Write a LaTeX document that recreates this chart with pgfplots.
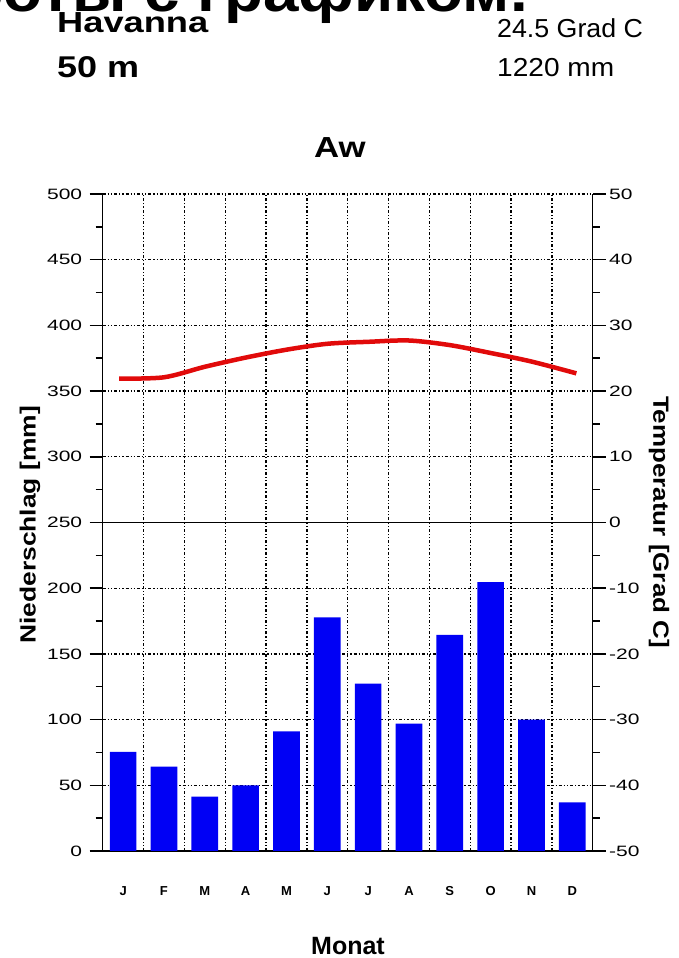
\documentclass[border=0pt]{standalone}
\usepackage{fontspec}
\setmainfont{Liberation Sans}
\usepackage{pgfplots}
\pgfplotsset{compat=1.18}
\definecolor{barblue}{RGB}{0,0,245}
\definecolor{tred}{RGB}{225,10,10}
\begin{document}
\begin{tikzpicture}
\useasboundingbox (0pt,0pt) rectangle (679pt,958pt);
\begin{scope}
\clip (0pt,0pt) rectangle (679pt,958pt);
% cut-off slide title
\node[anchor=base east, inner sep=0, font=\bfseries\fontsize{58}{58}\selectfont] at (528pt,946.5pt) {\scalebox{1.1}[1]{Порядок работы с графиком.}};
\end{scope}
% header
\node[anchor=base west, inner sep=0, font=\bfseries\fontsize{29}{29}\selectfont] at (57pt,925pt) {\scalebox{1.25}[1]{Havanna}};
\node[anchor=base west, inner sep=0, font=\bfseries\fontsize{30}{30}\selectfont] at (57pt,880pt) {\scalebox{1.2}[1]{50 m}};
\node[anchor=base west, inner sep=0, font=\fontsize{26}{26}\selectfont] at (497pt,920pt) {\scalebox{1.03}[1]{24.5 Grad C}};
\node[anchor=base west, inner sep=0, font=\fontsize{26}{26}\selectfont] at (497pt,881pt) {\scalebox{1.08}[1]{1220 mm}};
\node[anchor=base, inner sep=0, font=\bfseries\fontsize{29}{29}\selectfont] at (340pt,800pt) {\scalebox{1.2}[1]{Aw}};
\node[anchor=base, inner sep=0, font=\bfseries\fontsize{25}{25}\selectfont] at (348pt,4pt) {Monat};
\node[rotate=90, inner sep=0, font=\bfseries\fontsize{22}{22}\selectfont] at (30pt,433pt) {\scalebox{1.2}[1]{Niederschlag [mm]}};
\node[rotate=-90, inner sep=0, font=\bfseries\fontsize{22}{22}\selectfont] at (659pt,436pt) {\scalebox{1.18}[1]{Temperatur [Grad C]}};

\begin{axis}[
  at={(102.7pt,107pt)}, anchor=south west, scale only axis,
  width=490pt, height=657pt,
  xmin=0, xmax=12, ymin=0, ymax=500,
  axis x line*=bottom, axis y line*=left,
  axis line style={line width=1.5pt, black},
  xtick={0.5,1.5,...,11.5},
  xticklabels={J,F,M,A,M,J,J,A,S,O,N,D},
  minor xtick={1,2,...,11},
  xmajorgrids=false, xminorgrids=true, ymajorgrids=true,
  ytick={0,50,...,500}, minor ytick={25,75,...,475},
  tick align=outside,
  major tick length=13pt, minor tick length=7pt,
  x tick style={draw=none},
  y tick style={line width=1.5pt, black},
  grid style={black, line width=1.3pt, dash pattern=on 3pt off 2pt on 1.2pt off 2pt on 1.2pt off 2pt},
  minor grid style={black, line width=1.3pt, dash pattern=on 3pt off 2pt on 1.2pt off 2pt on 1.2pt off 2pt},
  /pgf/number format/assume math mode=true,
  xticklabel style={font=\bfseries\fontsize{13}{13}\selectfont, anchor=base, yshift=-31pt},
  yticklabel style={font=\fontsize{15}{15}\selectfont, xshift=-4pt},
  yticklabel={\scalebox{1.4}[1]{\pgfmathprintnumber{\tick}}},
]
\addplot[ybar, bar width=26.7pt, fill=barblue, draw=none] coordinates {
  (0.5,75.5) (1.5,64.3) (2.5,41.4) (3.5,50) (4.5,91) (5.5,177.7)
  (6.5,127.3) (7.5,97) (8.5,164.5) (9.5,204.6) (10.5,100) (11.5,37)
};
\addplot[black, line width=1.5pt] coordinates {(0,250) (12,250)};
\end{axis}

\begin{axis}[
  at={(102.7pt,107pt)}, anchor=south west, scale only axis,
  width=490pt, height=657pt,
  xmin=0, xmax=12, ymin=-50, ymax=50,
  axis x line=none, axis y line*=right,
  axis line style={line width=1.5pt, black},
  ytick={-50,-40,...,50}, minor ytick={-45,-35,...,45},
  tick align=outside,
  major tick length=13pt, minor tick length=7pt,
  y tick style={line width=1.5pt, black},
  /pgf/number format/assume math mode=true,
  yticklabel style={font=\fontsize{15}{15}\selectfont},
  yticklabel={\scalebox{1.4}[1]{\pgfmathprintnumber{\tick}}},
]
\addplot[tred, line width=4.5pt, smooth] coordinates {
  (0.4,21.9) (1.5,22.1) (2.5,23.7) (3.5,25.1) (4.5,26.3) (5.5,27.2)
  (6.5,27.5) (7.5,27.7) (8.5,27.0) (9.5,25.8) (10.5,24.5) (11.6,22.7)
};
\end{axis}
\end{tikzpicture}
\end{document}
